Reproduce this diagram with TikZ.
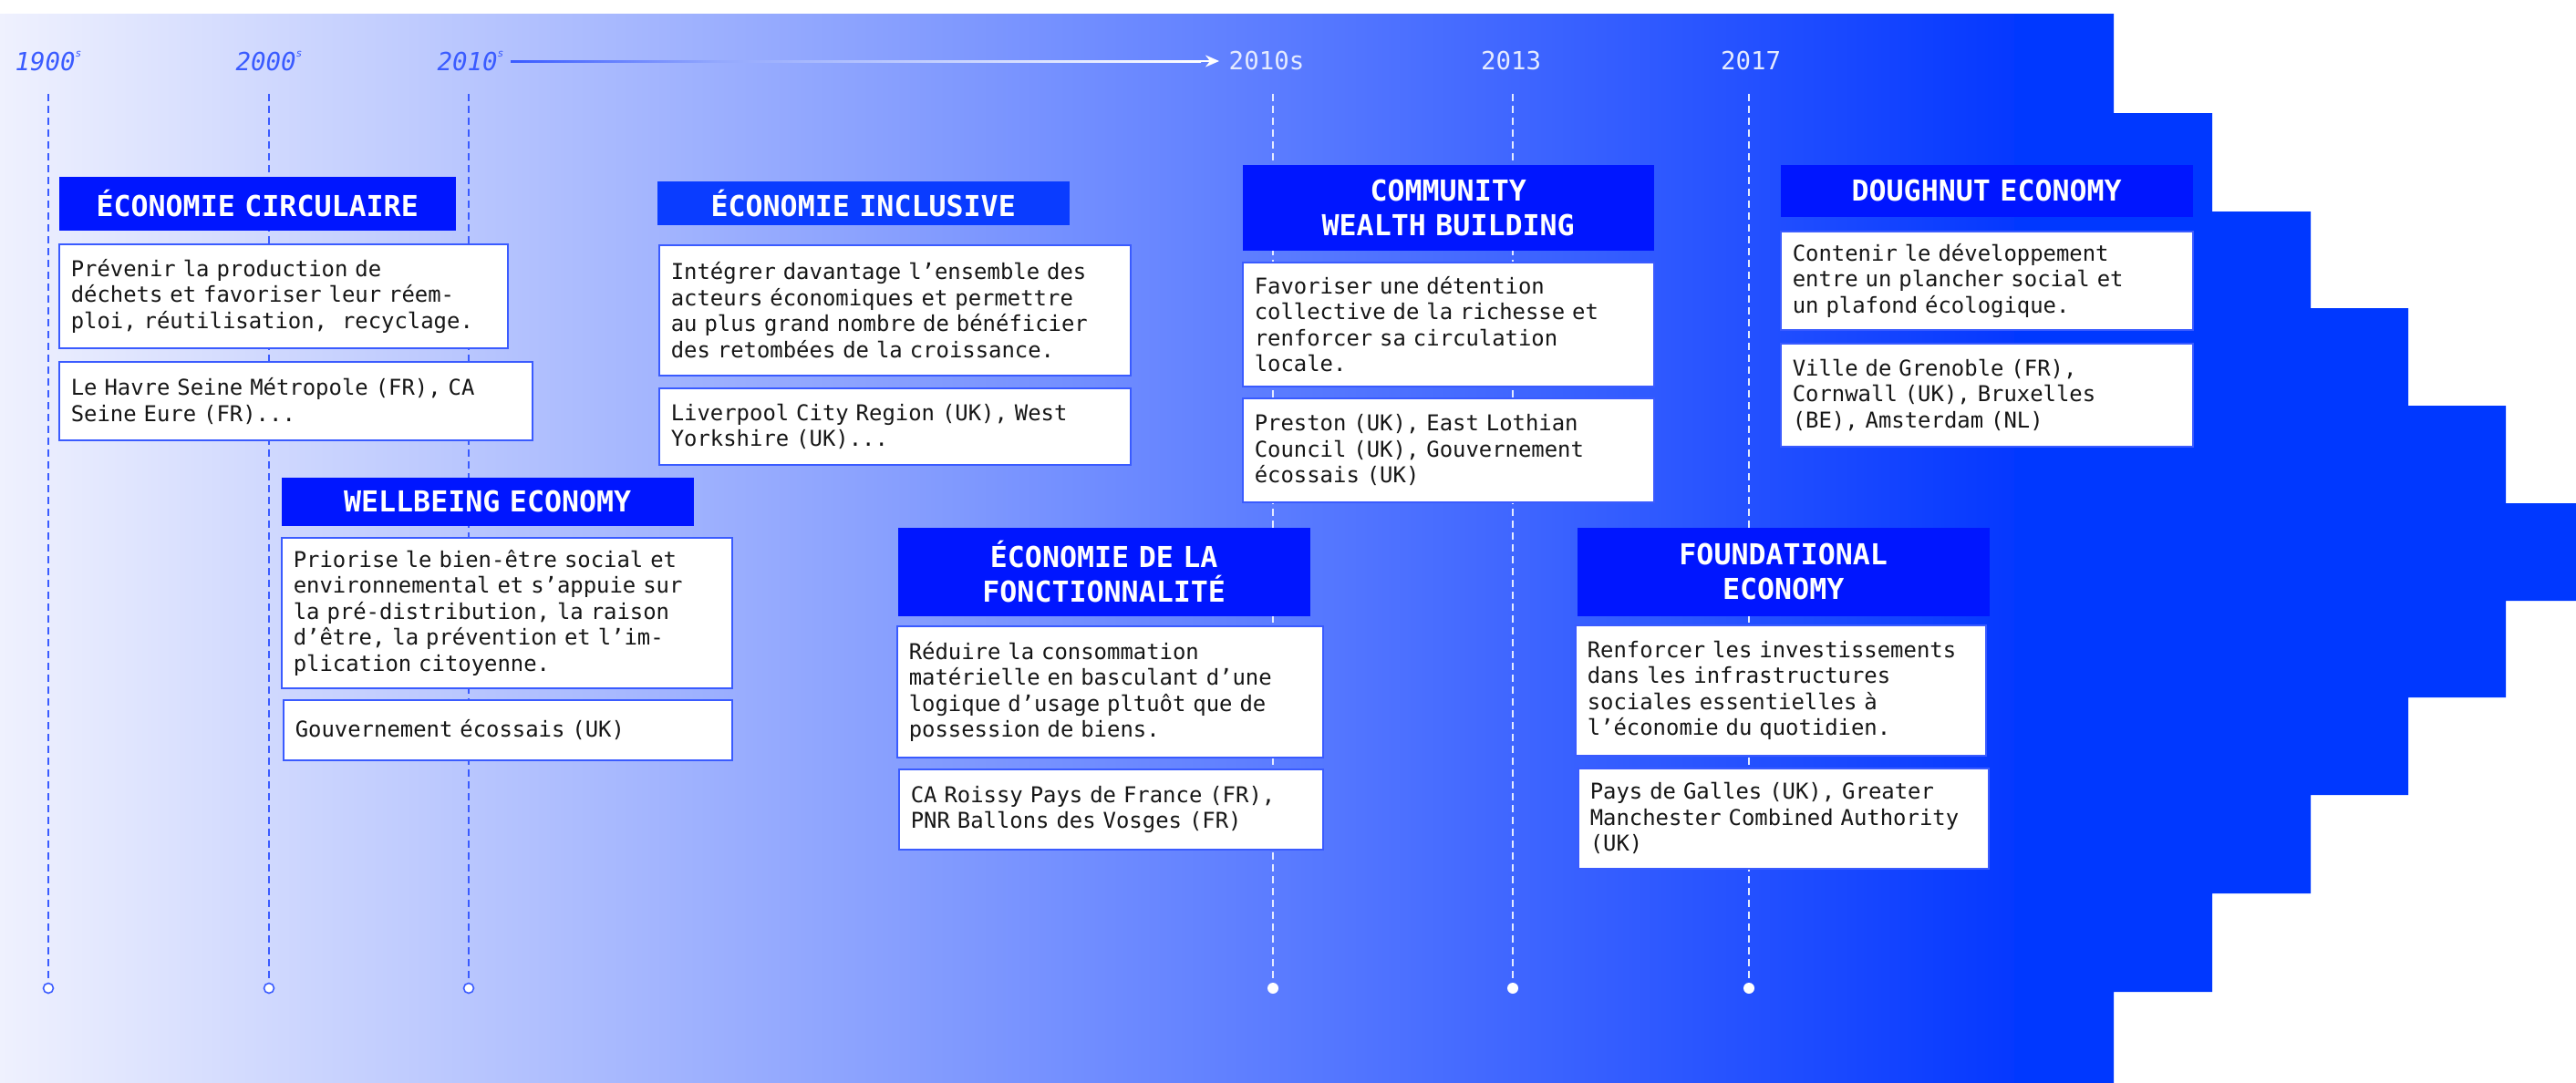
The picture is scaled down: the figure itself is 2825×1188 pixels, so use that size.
\documentclass[tikz,border=0pt]{standalone}
\usepackage{fontspec}
\setmonofont{DejaVu Sans Mono}
\usetikzlibrary{arrows.meta,calc}

\definecolor{bgpale}{HTML}{EFF1FE}
\definecolor{bgblue}{HTML}{0538FF}
\definecolor{stepblue}{HTML}{0038FF}
\definecolor{headblue}{HTML}{0016FF}
\definecolor{headlight}{HTML}{0A3CFF}
\definecolor{lineblue}{HTML}{3A5BFF}
\definecolor{paleline}{HTML}{E4EAFF}
\definecolor{inkgray}{HTML}{161616}
\definecolor{fadeblue}{HTML}{93A8FD}

\newcommand\bodyfont{\ttfamily\fontsize{6.8pt}{8.1pt}\selectfont}
\newcommand\headfont{\ttfamily\bfseries\fontsize{9pt}{10.8pt}\selectfont}
\newcommand\yearfont{\ttfamily\fontsize{7.8pt}{8pt}\selectfont}
\newcommand\supS{\raisebox{1ex}{\fontsize{3.2pt}{3.5pt}\selectfont s}}

\pgfdeclarehorizontalshading{arrowfade}{100bp}{color(0bp)=(lineblue); color(25bp)=(lineblue); color(40bp)=(fadeblue); color(75bp)=(white); color(100bp)=(white)}

\tikzset{
  hdr/.style={fill=headblue, text=white, font=\headfont, align=center, inner sep=0pt, anchor=north west},
  txtbox/.style={draw=lineblue, line width=0.45pt, fill=white, text=inkgray, font=\bodyfont, align=left, inner xsep=1.3mm, inner ysep=0pt, anchor=north west},
  yearold/.style={text=lineblue, font=\yearfont\itshape, inner sep=0pt},
  yearnew/.style={text=paleline, font=\yearfont, inner sep=0pt},
  dashold/.style={lineblue, line width=0.4pt, dash pattern=on 2.2pt off 1.5pt},
  dashnew/.style={paleline, line width=0.4pt, dash pattern=on 2.2pt off 1.5pt},
  dotold/.style={circle, draw=lineblue, fill=white, line width=0.45pt, minimum size=1.1mm, inner sep=0pt},
  dotnew/.style={circle, fill=white, minimum size=1.2mm, inner sep=0pt},
}

\begin{document}
\begin{tikzpicture}[x=0.1mm, y=-0.1mm]
\useasboundingbox (0,0) rectangle (2825,1188);

% background, stepped
\fill[stepblue] (0,15) -- (2318,15) -- (2318,124) -- (2426,124) -- (2426,232) -- (2534,232)
  -- (2534,338) -- (2641,338) -- (2641,445) -- (2748,445) -- (2748,552) -- (2825,552)
  -- (2825,659) -- (2748,659) -- (2748,765) -- (2641,765) -- (2641,872) -- (2534,872)
  -- (2534,980) -- (2426,980) -- (2426,1088) -- (2318,1088) -- (2318,1188) -- (0,1188) -- cycle;
\shade[left color=bgpale, right color=bgblue] (0,15) rectangle (2209,1188);

% years
\node[yearold] (y1900) at (53,67) {1900\supS};
\node[yearold] (y2000) at (295,67) {2000\supS};
\node[yearold] (y2010a) at (516,67) {2010\supS};
\node[yearnew] (y2010b) at (1389,67) {2010s};
\node[yearnew] (y2013) at (1657,67) {2013};
\node[yearnew] (y2017) at (1920,67) {2017};

\draw[white, line width=0.55pt, -{Stealth[length=1.5mm, width=1.3mm]}, shorten <=0.7mm, shorten >=1mm] (y2010a.east) -- (y2010b.west);
\shade[shading=arrowfade] ($(y2010a.east)+(7,-1)$) rectangle ($(y2010b.west)+(-30,1)$);

% time lines
\coordinate (t1900) at (53,103);
\coordinate (t2000) at (295,103);
\coordinate (t2010a) at (514,103);
\coordinate (t2010b) at (1396,103);
\coordinate (t2013) at (1659,103);
\coordinate (t2017) at (1918,103);
\node[dotold] (d1900) at (53,1084) {};
\node[dotold] (d2000) at (295,1084) {};
\node[dotold] (d2010a) at (514,1084) {};
\node[dotnew] (d2010b) at (1396,1084) {};
\node[dotnew] (d2013) at (1659,1084) {};
\node[dotnew] (d2017) at (1918,1084) {};
\draw[dashold] (t1900) -- (d1900);
\draw[dashold] (t2000) -- (d2000);
\draw[dashold] (t2010a) -- (d2010a);
\draw[dashnew] (t2010b) -- (d2010b);
\draw[dashnew] (t2013) -- (d2013);
\draw[dashnew] (t2017) -- (d2017);

% circulaire
\node[hdr, minimum width=43.5mm, text width=43.5mm, minimum height=5.9mm] (circ) at (64,193) {ÉCONOMIE CIRCULAIRE};
\node[txtbox, text width=46.6mm, minimum height=11.4mm] (circd) at (64,267) {Prévenir la production de\\déchets et favoriser leur réem-\\ploi, réutilisation,~ recyclage.};
\node[txtbox, text width=49.3mm, minimum height=8.6mm] (circe) at (64,396) {Le Havre Seine Métropole (FR), CA\\Seine Eure (FR)...};

% wellbeing
\node[hdr, minimum width=45.2mm, text width=45.2mm, minimum height=5.3mm] (well) at (308,523) {WELLBEING ECONOMY};
\node[txtbox, text width=46.8mm, minimum height=16.5mm] (welld) at (308,589) {Priorise le bien-être social et\\environnemental et s’appuie sur\\la pré-distribution, la raison\\d’être, la prévention et l’im-\\plication citoyenne.};
\node[txtbox, text width=46.6mm, minimum height=6.6mm] (welle) at (310,767) {Gouvernement écossais (UK)};

% inclusive
\node[hdr, fill=headlight, minimum width=45.2mm, text width=45.2mm, minimum height=4.8mm] (incl) at (720,198) {ÉCONOMIE INCLUSIVE};
\node[txtbox, text width=49.1mm, minimum height=14.3mm] (incld) at (722,268) {Intégrer davantage l’ensemble des\\acteurs économiques et permettre\\au plus grand nombre de bénéficier\\des retombées de la croissance.};
\node[txtbox, text width=49.1mm, minimum height=8.4mm] (incle) at (722,425) {Liverpool City Region (UK), West\\Yorkshire (UK)...};

% fonctionnalite
\node[hdr, minimum width=45.2mm, text width=45.2mm, minimum height=9.7mm] (fonc) at (984,578) {ÉCONOMIE DE LA\\FONCTIONNALITÉ};
\node[txtbox, text width=44.1mm, minimum height=14.4mm] (foncd) at (983,686) {Réduire la consommation\\matérielle en basculant d’une\\logique d’usage pltuôt que de\\possession de biens.};
\node[txtbox, text width=43.9mm, minimum height=8.8mm] (once) at (985,843) {CA Roissy Pays de France (FR),\\PNR Ballons des Vosges (FR)};

% community wealth building
\node[hdr, minimum width=45.1mm, text width=45.1mm, minimum height=9.4mm] (cwb) at (1362,180) {COMMUNITY\\WEALTH BUILDING};
\node[txtbox, text width=42.5mm, minimum height=13.6mm] (cwbd) at (1362,287) {Favoriser une détention\\collective de la richesse et\\renforcer sa circulation\\locale.};
\node[txtbox, text width=42.5mm, minimum height=11.4mm] (cwbe) at (1362,436) {Preston (UK), East Lothian\\Council (UK), Gouvernement\\écossais (UK)};

% doughnut
\node[hdr, minimum width=45.2mm, text width=45.2mm, minimum height=5.7mm] (dough) at (1952,180) {DOUGHNUT ECONOMY};
\node[txtbox, text width=42.6mm, minimum height=10.8mm] (doughd) at (1952,253) {Contenir le développement\\entre un plancher social et\\un plafond écologique.};
\node[txtbox, text width=42.6mm, minimum height=11.3mm] (doughe) at (1952,376) {Ville de Grenoble (FR),\\Cornwall (UK), Bruxelles\\(BE), Amsterdam (NL)};

% foundational
\node[hdr, minimum width=45.2mm, text width=45.2mm, minimum height=9.7mm] (found) at (1729,578) {FOUNDATIONAL\\ECONOMY};
\node[txtbox, text width=42.4mm, minimum height=14.3mm] (foundd) at (1727,685) {Renforcer les investissements\\dans les infrastructures\\sociales essentielles à\\l’économie du quotidien.};
\node[txtbox, text width=42.4mm, minimum height=11mm] (founde) at (1730,842) {Pays de Galles (UK), Greater\\Manchester Combined Authority\\(UK)};
\end{tikzpicture}
\end{document}
